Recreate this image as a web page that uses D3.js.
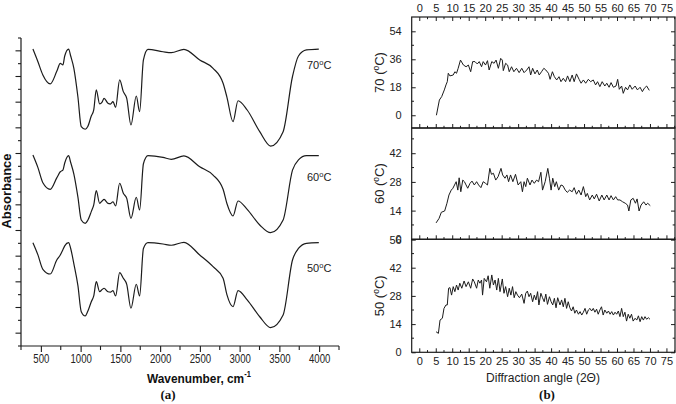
<!DOCTYPE html>
<html><head><meta charset="utf-8">
<script src="https://cdn.jsdelivr.net/npm/d3@7"></script>
<style>body{margin:0;background:#fff}svg{display:block}</style>
</head><body>
<svg id="c" width="676" height="404"></svg>
<script>
// ---------- (a) FTIR data ----------
const wavenumbers = [400,463,525,618,700,744,777,800,849,875,915,966,1008,1058,1090,1134,1165,1197,1239,1270,1295,1344,1375,1407,1440,1491,1537,1580,1633,1700,1742,1790,1847,2036,2141,2300,2498,2666,2792,2840,2917,2980,3095,3253,3390,3547,3665,3740,3841,3996];
const abs70 = [23.14,22.15,21.12,20.42,21.4,22.03,21.9,22.6,23.14,22.6,21.64,19.4,17.09,16.89,17.1,17.92,18.4,19.95,18.86,19.0,19.30,18.91,18.85,19.04,18.60,20.73,19.82,19.3,17.22,19.48,18.26,22.29,23.12,22.93,22.86,23.12,22.29,21.64,20.47,19.4,17.48,19.11,18.39,16.70,15.58,16.70,21.0,22.6,23.07,23.14];
const abs60 = [14.88,13.9,12.72,12.21,13.1,13.58,13.7,14.26,14.83,14.3,13.40,11.6,9.82,9.56,9.8,10.47,11.0,12.10,11.12,11.3,11.43,11.12,11.1,11.24,10.91,12.68,11.90,11.5,9.95,11.59,10.60,14.2,14.83,14.70,14.55,14.81,13.97,13.32,12.21,11.1,10.13,11.30,10.65,9.43,8.83,9.82,13.7,14.5,14.83,14.83];
const abs50 = [8.05,7.1,5.98,5.61,6.7,7.09,7.5,7.8,8.05,7.6,6.4,4.7,2.67,2.34,2.7,3.45,3.9,5.01,4.23,4.4,4.50,4.23,4.2,4.31,3.90,5.71,5.28,4.8,2.94,4.81,3.90,7.6,8.05,7.95,7.85,8.08,7.09,6.18,5.28,4.0,3.06,4.31,3.6,2.28,1.43,2.42,6.7,7.6,8.00,8.05];
const ftirTemps = ["70","60","50"];
const wnTicks = [500,1000,1500,2000,2500,3000,3500,4000];

// ---------- (b) XRD data ----------
const ang70 = [5.2,6.1,6.8,7.6,8.1,8.5,8.8,9.3,10.3,10.8,11.3,11.8,12.5,13.4,14.2,14.9,15.6,16.2,16.9,17.6,18.2,18.9,19.4,20.1,20.7,21.2,22.0,22.7,23.3,24.0,24.7,25.2,25.5,26.2,26.8,27.3,28.0,28.7,29.5,30.3,31.1,31.8,32.6,33.3,33.8,34.4,35.1,35.8,36.4,37.1,37.8,38.4,39.2,39.7,40.4,41.0,41.7,42.4,43.0,43.7,44.4,45.0,45.7,46.4,47.0,47.7,48.5,49.1,49.8,50.5,51.3,52.0,52.8,53.5,54.1,54.8,55.5,56.3,56.9,57.6,58.2,58.9,59.7,60.2,60.7,61.4,61.9,62.6,63.2,63.9,64.6,65.5,66.2,67.0,67.7,68.3,69.0,69.8];
const int70 = [0,9.8,12,16.3,19.5,21.6,27,25.3,25.9,28,27,30.2,35.5,32.3,31.2,32.3,28,34.5,34.5,33,34.5,31.2,34.5,32.3,35.1,29.1,34.5,33.4,35.5,30.2,36.6,35.5,28.7,33.4,32.3,28,31.2,28,30.2,27.4,30.2,27.4,29.1,31.2,25.9,30.2,26.6,29.1,25.9,28,30.2,29.1,27,23.1,28,24.8,22.7,24.8,21.6,23.8,21.6,25.3,21.6,25.9,21.6,26.6,23.1,20.6,22.7,20.6,23.1,21.6,22.7,19.5,21.6,18.4,21.6,18.8,20.6,18,21,18,18.8,23.1,16.7,18.8,14.1,18,16.3,19.5,16.7,18.8,16.3,18,15.2,17.4,18.8,16];
const ang60 = [5.1,6.0,6.7,7.7,8.4,9.0,9.7,10.2,10.7,11.2,11.7,12.1,12.6,13.2,13.7,14.2,14.7,15.4,16.0,16.7,17.4,18.0,18.7,19.4,20.1,20.7,21.4,21.9,22.5,23.2,23.9,24.8,25.3,26.0,26.6,27.1,27.7,28.4,29.2,30.0,30.8,31.3,31.8,32.3,32.8,33.6,34.2,34.9,35.6,36.2,36.9,37.4,38.2,39.0,39.5,40.0,40.5,41.1,41.6,42.3,43.0,43.6,44.3,44.9,45.6,46.4,47.0,47.7,48.4,49.1,49.8,50.5,51.0,51.7,52.5,53.1,53.8,54.6,55.4,56.1,56.9,57.6,58.2,58.9,59.6,60.2,60.9,61.7,62.5,63.2,63.6,64.2,64.9,65.6,66.1,66.7,67.3,68.1,68.8,69.3,70.1];
const int60 = [8,10.2,13.2,13.8,17.6,21.6,24,24.9,26.5,28.1,24,30,23.2,28.9,28.1,26.5,24.9,27.3,28.4,26.5,28.1,26.5,25.2,28.1,27.3,26.5,34.6,31.7,32.2,28.9,30.5,34.6,31.4,29.8,31.4,28.1,31.4,28.1,31.7,26.5,28.1,23.2,28.1,25.7,29.8,26.5,28.9,27.3,28.9,28.1,32.7,24,28.1,34.6,29.8,24,29.8,25.7,28.1,24,26.5,26.1,24,22.9,24,23.2,25.2,22,24,21.6,25.7,20.8,22.4,19.2,21.6,19.7,22,18.7,21.6,19.2,21.6,19.2,21.3,19.2,20.8,19.2,19.2,18.3,17.6,16.7,13.8,19.2,20,17.6,19.7,13.8,16.7,18.3,16.7,17.6,16.4];
const ang50 = [5.1,5.8,6.3,7.0,7.5,8.1,8.5,8.9,9.3,9.8,10.3,10.8,11.3,11.8,12.3,12.9,13.6,14.2,14.9,15.6,16.2,16.7,17.4,17.9,18.4,18.9,19.2,19.7,20.4,20.9,21.4,22.0,22.5,23.0,23.5,24.0,24.5,25.2,25.7,26.2,26.8,27.3,27.8,28.3,28.8,29.3,29.8,30.4,31.1,31.8,32.3,32.8,33.3,33.8,34.4,34.9,35.4,35.9,36.3,36.9,37.4,37.9,38.4,38.9,39.5,40.0,40.5,41.0,41.5,42.0,42.7,43.2,43.7,44.2,44.7,45.2,45.7,46.2,46.7,47.2,47.7,48.3,48.8,49.3,49.8,50.3,50.8,51.3,51.8,52.3,52.8,53.3,53.8,54.3,54.8,55.3,55.8,56.3,56.9,57.4,57.9,58.4,58.9,59.4,59.9,60.4,60.9,61.4,61.9,62.4,62.9,63.4,63.9,64.4,64.9,65.5,66.0,66.5,67.0,67.5,68.0,68.5,69.0,69.5,70.0];
const int50 = [10.2,9.4,16,16.9,21.8,23.5,23.5,31.8,32.1,28.4,32.6,30.1,33.4,30.9,34.3,31.8,35.4,32.6,35,31.8,36.4,35,31.8,35.9,34.3,35.9,28.4,36.7,35,38,31.8,38.4,33.4,35.9,30.9,36.7,30.1,36.4,29.3,32.6,27.6,31.8,28.4,32.6,27.1,30.1,28.4,27.1,28.9,24.3,29.3,30.4,27.6,29.3,25.1,28.4,26,30.1,23.5,29.3,27.1,25.1,28.9,23.8,27.6,25.1,23.5,26.8,22.1,27.1,23.5,26,22.6,26.8,21.8,25.1,22.1,20.5,22.6,19.4,21,18.9,20.2,18.5,19.9,21.8,18.9,21,21.8,20.5,21.8,19.9,21.4,18.9,21,22.6,18.5,21,19.4,20.5,18.9,20.2,18.5,19.9,18.9,20.5,17.7,21.8,17.7,19.9,15.5,18.9,16.9,18.9,15.5,16.9,16,18.1,15.2,17.7,16,17.7,16.4,17.2,16.4];
const angleTicks = [0,5,10,15,20,25,30,35,40,45,50,55,60,65,70,75];
const yTicks70 = [0,18,36,54], yMinor70 = [9,27,45];
const yTicks60 = [0,14,28,42], yMinor60 = [7,21,35,49];
const yTicks50 = [0,14,28,42,56], yMinor50 = [7,21,35,49];
const xrdTemps = ["70","60","50"];

const svg = d3.select("#c");
const ink = "#1c1c1c";
const sans = "Liberation Sans, Arial, sans-serif";

// ================= Panel (a) =================
const xF = d3.scaleLinear().domain([250,4250]).range([21,339]);
const yF = d3.scaleLinear().domain([0,24]).range([346,38]);
const ga = svg.append("g");

const axB = ga.append("g").attr("transform","translate(0,346)")
  .call(d3.axisBottom(xF).tickValues(wnTicks).tickSize(6).tickPadding(2).tickFormat(d3.format("d")));
axB.select(".domain").attr("d",`M21,0H339`).attr("stroke",ink).attr("stroke-width",1.2);
axB.selectAll(".tick line").attr("stroke",ink).attr("stroke-width",1.1);
axB.selectAll(".tick text").attr("font-family",sans).attr("font-size",12).attr("fill","#222")
  .attr("transform","scale(0.8,1)");
const minorWn = d3.range(250,4251,500);
ga.append("g").selectAll("line").data(minorWn).join("line")
  .attr("x1",d=>xF(d)).attr("x2",d=>xF(d)).attr("y1",346).attr("y2",350)
  .attr("stroke",ink).attr("stroke-width",1.1);

ga.append("line").attr("x1",21).attr("x2",21).attr("y1",38).attr("y2",346).attr("stroke",ink).attr("stroke-width",1.2);
ga.append("g").selectAll("line").data(d3.range(0,25)).join("line")
  .attr("x1",21).attr("x2",d=>d%2===1?15.5:18).attr("y1",d=>yF(d)).attr("y2",d=>yF(d))
  .attr("stroke",ink).attr("stroke-width",1.1);

const lineF = d3.line().x((d,i)=>xF(wavenumbers[i])).y(d=>yF(d)).curve(d3.curveMonotoneX);
[abs70,abs60,abs50].forEach(arr=>{
  ga.append("path").attr("d",lineF(arr)).attr("fill","none").attr("stroke",ink).attr("stroke-width",1.2);
});
const labelY = [65,177,268];
ftirTemps.forEach((t,i)=>{
  const tx = ga.append("text").attr("x",307).attr("y",labelY[i]+4).attr("font-family",sans).attr("font-size",11).attr("fill","#222");
  tx.append("tspan").text(t);
  tx.append("tspan").attr("font-size",7.5).attr("dy",-4).text("o");
  tx.append("tspan").attr("dy",4).text("C");
});
ga.append("text").attr("transform","translate(11,191) rotate(-90)").attr("text-anchor","middle")
  .attr("font-family",sans).attr("font-weight","bold").attr("font-size",13).attr("fill","#111").text("Absorbance");
const wt = ga.append("text").attr("transform","translate(147,383) scale(0.88,1)").attr("font-family",sans).attr("font-weight","bold").attr("font-size",13.5).attr("fill","#111");
wt.append("tspan").text("Wavenumber, cm");
wt.append("tspan").attr("font-size",8.5).attr("dy",-6).text("-1");
ga.append("text").attr("x",168).attr("y",399).attr("text-anchor","middle").attr("font-family","Liberation Serif, Times New Roman, serif")
  .attr("font-weight","bold").attr("font-size",13).attr("fill","#111").text("(a)");

// ================= Panel (b) =================
const xX = d3.scaleLinear().domain([-2.3,77.6]).range([411.7,675]);
const panels = [
  {ang:ang70, val:int70, dom:[-8.2,63.2], rng:[128,17], maj:yTicks70, min:yMinor70, t:xrdTemps[0], top:true},
  {ang:ang60, val:int60, dom:[0,54.3], rng:[239.3,128], maj:yTicks60, min:yMinor60, t:xrdTemps[1]},
  {ang:ang50, val:int50, dom:[0,56.1], rng:[352.3,239.3], maj:yTicks50, min:yMinor50, t:xrdTemps[2], bottom:true}
];
const gb = svg.append("g");
const minorAng = d3.range(2.5,77.6,5);
panels.forEach(p=>{
  const y = d3.scaleLinear().domain(p.dom).range(p.rng);
  const g = gb.append("g");
  g.append("rect").attr("x",411.7).attr("y",p.rng[1]).attr("width",675-411.7).attr("height",p.rng[0]-p.rng[1])
    .attr("fill","none").attr("stroke",ink).attr("stroke-width",1.2);
  const ab = g.append("g").attr("transform",`translate(0,${p.rng[0]})`)
    .call(d3.axisBottom(xX).tickValues(angleTicks).tickSize(-4).tickPadding(5).tickFormat(p.bottom?d3.format("d"):""));
  ab.select(".domain").remove();
  g.append("g").selectAll("line").data(minorAng).join("line")
    .attr("x1",d=>xX(d)).attr("x2",d=>xX(d)).attr("y1",p.rng[0]).attr("y2",p.rng[0]-2.2);
  if(p.top){
    const at = g.append("g").attr("transform",`translate(0,${p.rng[1]})`)
      .call(d3.axisTop(xX).tickValues(angleTicks).tickSize(-4).tickPadding(5).tickFormat(d3.format("d")));
    at.select(".domain").remove();
    g.append("g").selectAll("line").data(minorAng).join("line")
      .attr("x1",d=>xX(d)).attr("x2",d=>xX(d)).attr("y1",p.rng[1]).attr("y2",p.rng[1]+2.2);
  }
  const al = g.append("g").attr("transform","translate(411.7,0)")
    .call(d3.axisLeft(y).tickValues(p.maj).tickSize(-4).tickPadding(10).tickFormat(d3.format("d")));
  al.select(".domain").remove();
  const ar = g.append("g").attr("transform","translate(675,0)")
    .call(d3.axisRight(y).tickValues(p.maj).tickSize(-4).tickFormat(""));
  ar.select(".domain").remove();
  g.append("g").selectAll("line").data(p.min).join("line")
    .attr("x1",411.7).attr("x2",414).attr("y1",d=>y(d)).attr("y2",d=>y(d));
  g.append("g").selectAll("line").data(p.min).join("line")
    .attr("x1",675).attr("x2",672.7).attr("y1",d=>y(d)).attr("y2",d=>y(d));
  g.selectAll("line").attr("stroke",ink).attr("stroke-width",1);
  g.selectAll(".tick text").attr("font-family",sans).attr("font-size",11).attr("fill","#222");
  const ln = d3.line().x((d,i)=>xX(p.ang[i])).y(d=>y(d));
  g.append("path").attr("d",ln(p.val)).attr("fill","none").attr("stroke",ink).attr("stroke-width",1);
  const cy = (p.rng[0]+p.rng[1])/2;
  const tt = g.append("text").attr("transform",`translate(384,${cy}) rotate(-90)`).attr("text-anchor","middle")
    .attr("font-family",sans).attr("font-size",13).attr("fill","#222");
  tt.append("tspan").text(p.t+" (");
  tt.append("tspan").attr("font-size",8.5).attr("dy",-5).text("o");
  tt.append("tspan").attr("dy",5).text("C)");
});
gb.append("text").attr("x",543).attr("y",382).attr("text-anchor","middle").attr("font-family",sans)
  .attr("font-size",12).attr("fill","#222").text("Diffraction angle (2Θ)");
gb.append("text").attr("x",547).attr("y",399).attr("text-anchor","middle").attr("font-family","Liberation Serif, Times New Roman, serif")
  .attr("font-weight","bold").attr("font-size",13).attr("fill","#111").text("(b)");
</script>
</body></html>
